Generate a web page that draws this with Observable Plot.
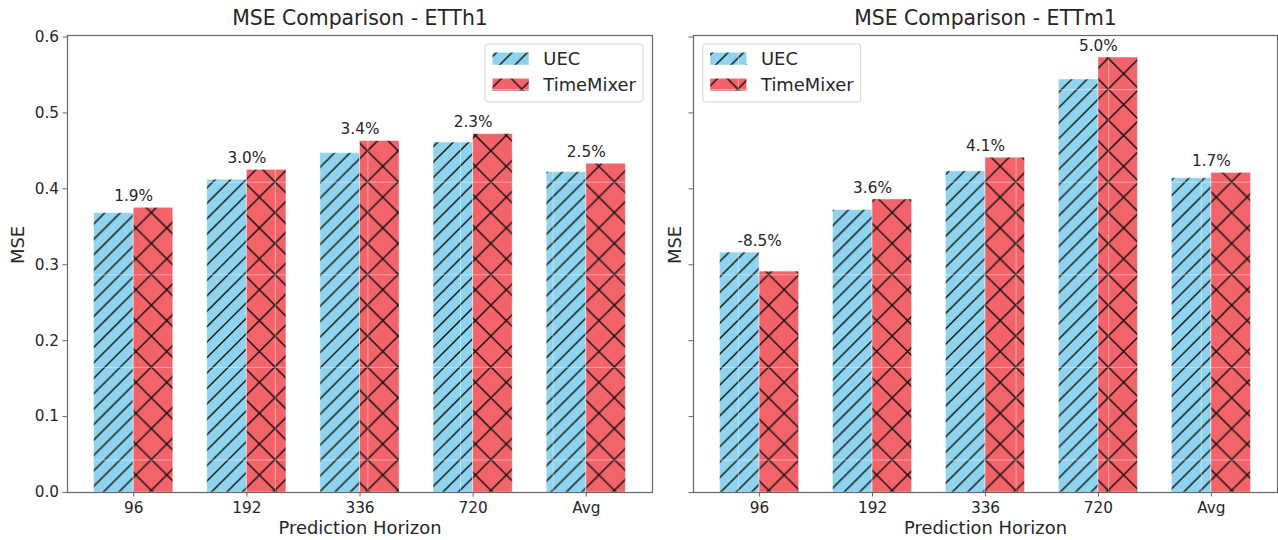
<!DOCTYPE html>
<html><head><meta charset="utf-8">
<script src="https://cdn.jsdelivr.net/npm/d3@7"></script>
<script src="https://cdn.jsdelivr.net/npm/@observablehq/plot@0.6"></script>
<style>
body{margin:0;background:#fff;}
#wrap{position:relative;width:1278px;height:540px;display:flex;overflow:hidden;}
svg{display:block;}
</style></head><body><div id="wrap"></div>
<script>
// ---- data ----
const horizons = ["96", "192", "336", "720", "Avg"];
const seriesNames = ["UEC", "TimeMixer"];
const etth1UEC = [0.368, 0.412, 0.447, 0.461, 0.422];
const etth1TimeMixer = [0.375, 0.425, 0.463, 0.472, 0.433];
const etth1Improvement = ["1.9%", "3.0%", "3.4%", "2.3%", "2.5%"];
const ettm1UEC = [0.316, 0.372, 0.423, 0.544, 0.414];
const ettm1TimeMixer = [0.291, 0.386, 0.441, 0.573, 0.421];
const ettm1Improvement = ["-8.5%", "3.6%", "4.1%", "5.0%", "1.7%"];
const yTicks = [0, 0.1, 0.2, 0.3, 0.4, 0.5, 0.6];

const UEC_COLOR = "#8fd4ee";
const TM_COLOR = "#f2646a";
const FONT = "DejaVu Sans";
const TEXT = "#262626";
const SPINE = "#666";

// hatch tile (page coordinates)
const T = 92.6, OX = 89.6, OY = 89.1;
function addPattern(defs, id, color, hatch, left, top) {
  const p = defs.append("pattern").attr("id", id).attr("patternUnits", "userSpaceOnUse")
    .attr("width", T).attr("height", T).attr("x", OX - left).attr("y", OY - top);
  p.append("rect").attr("width", T).attr("height", T).attr("fill", color);
  const n = hatch === "/" ? 6 : 3;
  const h = T / n;
  const g = p.append("g").attr("stroke", "#0a0a0a").attr("stroke-width", 1.3).attr("stroke-linecap", "square");
  for (let k = 0; k <= 2 * n; k++) {
    const c = k * h;
    g.append("line").attr("x1", c).attr("y1", 0).attr("x2", c - T).attr("y2", T);
    if (hatch === "x") g.append("line").attr("x1", c - T).attr("y1", 0).attr("x2", c).attr("y2", T);
  }
  p.append("path").attr("d", `M0,0.5H${T}M0.5,0V${T}`).attr("fill", "none")
    .attr("stroke", "#fff").attr("stroke-opacity", 0.4).attr("stroke-width", 1);
}

function panel(cfg) {
  const {title, uec, tm, labels, showTickLabels, width, marginLeft, marginRight, id, left, ylabelDx, legendX} = cfg;
  const rows = horizons.map((h, i) => ({i, h, uec: uec[i], tm: tm[i], label: labels[i], top: Math.max(uec[i], tm[i])}));
  const chart = Plot.plot({
    width, height: 540, marginLeft, marginRight, marginTop: 35, marginBottom: 48,
    style: {fontFamily: FONT, background: "white", color: TEXT, overflow: "visible"},
    x: {domain: [-0.585, 4.585], label: null},
    y: {domain: [0, 0.602], label: null},
    marks: [
      Plot.rectY(rows, {x1: d => d.i - 0.35, x2: d => d.i, y1: 0, y2: "uec",
        fill: `url(#${id}-uec)`, stroke: "white", strokeOpacity: 0.45, strokeWidth: 1}),
      Plot.rectY(rows, {x1: d => d.i, x2: d => d.i + 0.35, y1: 0, y2: "tm",
        fill: `url(#${id}-tm)`, stroke: "white", strokeOpacity: 0.45, strokeWidth: 1}),
      Plot.text(rows, {x: "i", y: d => d.top + 0.005, text: "label", lineAnchor: "bottom", dy: -3,
        fontSize: 15.3, fill: TEXT}),
      Plot.axisX({ticks: [0, 1, 2, 3, 4], tickFormat: i => horizons[i], tickSize: 4.5, tickPadding: 5,
        fontSize: 15.3, stroke: SPINE, fill: TEXT, label: null}),
      Plot.axisY({ticks: yTicks, tickFormat: showTickLabels ? d3.format(".1f") : () => "", tickSize: 4.5, tickPadding: 4,
        fontSize: 15.3, stroke: SPINE, fill: TEXT, label: null}),
      Plot.frame({stroke: SPINE, strokeWidth: 1.2}),
      Plot.text([title], {frameAnchor: "top", lineAnchor: "middle", dy: -17, fontSize: 20.4, fill: TEXT}),
      Plot.text(["Prediction Horizon"], {frameAnchor: "bottom", lineAnchor: "middle", dy: 36, fontSize: 17.9, fill: TEXT}),
      Plot.text(["MSE"], {frameAnchor: "left", lineAnchor: "middle", dx: ylabelDx, rotate: -90, fontSize: 17.9, fill: TEXT})
    ]
  });
  const svg = d3.select(chart);
  const defs = svg.insert("defs", ":first-child");
  addPattern(defs, `${id}-uec`, UEC_COLOR, "/", left, 0);
  addPattern(defs, `${id}-tm`, TM_COLOR, "x", left, 0);
  // legend
  const lx = legendX - left;
  const lg = svg.append("g").attr("font-family", FONT).attr("text-anchor", "start");
  lg.append("rect").attr("x", lx).attr("y", 44).attr("width", 158).attr("height", 58).attr("rx", 3)
    .attr("fill", "white").attr("fill-opacity", 0.8).attr("stroke", "#d4d4d4").attr("stroke-width", 1);
  const rowsY = [52.3, 78.3];
  const fills = [`url(#${id}-uec)`, `url(#${id}-tm)`];
  seriesNames.forEach((name, k) => {
    lg.append("rect").attr("x", lx + 7.3).attr("y", rowsY[k]).attr("width", 36.7).attr("height", 12.7)
      .attr("fill", fills[k]).attr("stroke", "white").attr("stroke-opacity", 0.45);
    lg.append("text").attr("x", lx + 58.3).attr("y", rowsY[k] + 6.35).attr("dy", "0.35em")
      .attr("text-anchor", "start").attr("font-size", 17.9).attr("fill", TEXT).text(name);
  });
  return chart;
}

const wrap = document.getElementById("wrap");
wrap.appendChild(panel({title: "MSE Comparison - ETTh1", uec: etth1UEC, tm: etth1TimeMixer, labels: etth1Improvement,
  showTickLabels: true, width: 672, marginLeft: 67, marginRight: 20, id: "p1", left: 0, ylabelDx: -49, legendX: 485}));
wrap.appendChild(panel({title: "MSE Comparison - ETTm1", uec: ettm1UEC, tm: ettm1TimeMixer, labels: ettm1Improvement,
  showTickLabels: false, width: 606, marginLeft: 21, marginRight: 1, id: "p2", left: 672, ylabelDx: -18, legendX: 702.7}));
</script></body></html>
